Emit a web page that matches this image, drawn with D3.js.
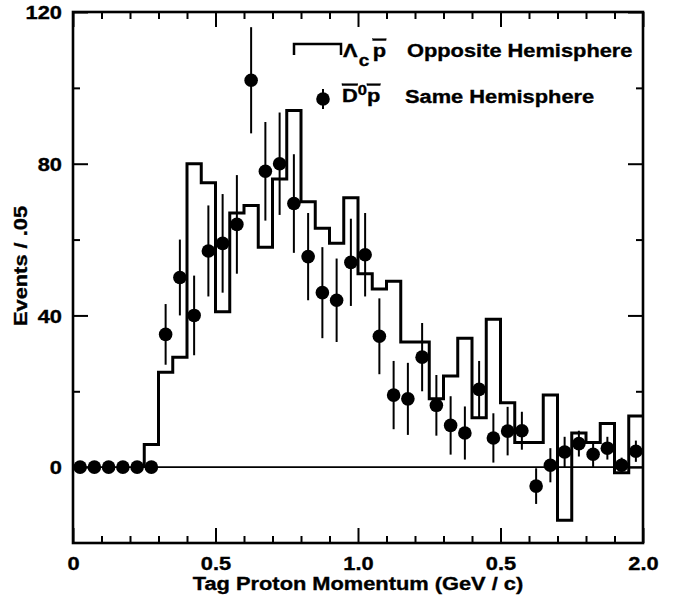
<!DOCTYPE html>
<html>
<head>
<meta charset="utf-8">
<script src="https://cdn.jsdelivr.net/npm/d3@7"></script>
<style>
  html, body { margin: 0; padding: 0; background: #fff; }
  svg text { font-family: "Liberation Sans", Arial, Helvetica, sans-serif; font-weight: bold; fill: #000; stroke: #000; stroke-width: 0.35px; }
</style>
</head>
<body>
<svg id="chart" width="681" height="600"></svg>
<script>
// Opposite-hemisphere Λc p̄ histogram: lower bin edges (GeV/c) and counts per 0.05 bin
const histEdges = [0.25, 0.30, 0.35, 0.40, 0.45, 0.50, 0.55, 0.60, 0.65, 0.70,
                   0.75, 0.80, 0.85, 0.90, 0.95, 1.00, 1.05, 1.10, 1.15, 1.20,
                   1.25, 1.30, 1.35, 1.40, 1.45, 1.50, 1.55, 1.60, 1.65, 1.70,
                   1.75, 1.80, 1.85, 1.90, 1.95];
const histCounts = [6, 25, 29, 80, 75, 41, 67, 69, 58, 76,
                    94, 70, 63, 59, 71, 51, 47, 49, 33, 33,
                    18, 24, 34, 13, 39, 17, 6.5, 6.5, 19, -14,
                    9, 6.5, 11.5, -1.5, 13.5];
const histEnd = 2.0;

// Same-hemisphere D̄0 p̄ points: bin centres, counts and errors
const pointX = [0.025, 0.075, 0.125, 0.175, 0.225, 0.275, 0.325, 0.375, 0.425, 0.475,
                0.525, 0.575, 0.625, 0.675, 0.725, 0.775, 0.825, 0.875, 0.925, 0.975,
                1.025, 1.075, 1.125, 1.175, 1.225, 1.275, 1.325, 1.375, 1.425, 1.475,
                1.525, 1.575, 1.625, 1.675, 1.725, 1.775, 1.825, 1.875, 1.925, 1.975];
const pointY = [0, 0, 0, 0, 0, 0, 35, 50, 40, 57,
                59, 64, 102, 78, 80, 69.5, 55.5, 46, 44, 54,
                56, 34.5, 19, 18, 29, 16.3, 11, 9, 20.5, 7.7,
                9.5, 9.6, -5, 0.5, 4, 6.2, 3.4, 5, 0.5, 4.2];
const pointErr = [0, 0, 0, 0, 0, 0, 8, 10, 10.5, 12,
                  13, 13, 14, 13, 13.5, 13, 11.5, 12, 11, 11.5,
                  11, 10, 9, 9.5, 9, 8, 7.7, 7, 7.5, 6.5,
                  6.4, 5, 4.7, 4.5, 4, 3.4, 3.5, 3, 2, 2.8];

// Axis ticks and labels
const xMajorTicks = [0, 0.5, 1.0, 1.5, 2.0];
const xTickLabels = ["0", "0.5", "1.0", "0.5", "2.0"];
const xMinorTicks = [0.1, 0.2, 0.3, 0.4, 0.6, 0.7, 0.8, 0.9, 1.1, 1.2, 1.3, 1.4, 1.6, 1.7, 1.8, 1.9];
const yMajorTicks = [0, 40, 80, 120];
const yMinorTicks = [20, 60, 100];
const xTitle = "Tag Proton Momentum (GeV / c)";
const yTitle = "Events / .05";

const FS = 18.5;     // font size
const SX = 1.18;     // horizontal stretch of the lettering

const svg = d3.select("#chart");
const plotL = 73, plotR = 643, plotT = 12, plotB = 543;

const x = d3.scaleLinear().domain([0, 2]).range([plotL, plotR]);
const y = d3.scaleLinear().domain([-20, 120]).range([plotB, plotT]);

// zero reference line
svg.append("line")
  .attr("x1", x(0)).attr("x2", x(2))
  .attr("y1", y(0)).attr("y2", y(0))
  .attr("stroke", "#000").attr("stroke-width", 1.6);

// histogram as a step outline
const stepPts = [[histEdges[0], 0]];
histEdges.forEach((e, i) => stepPts.push([e, histCounts[i]]));
stepPts.push([histEnd, histCounts[histCounts.length - 1]]);
svg.append("path")
  .attr("d", d3.line().x(d => x(d[0])).y(d => y(d[1])).curve(d3.curveStepAfter)(stepPts))
  .attr("fill", "none").attr("stroke", "#000").attr("stroke-width", 3)
  .attr("stroke-linejoin", "miter");

// error bars and points
const pts = pointX.map((px, i) => ({ x: px, y: pointY[i], e: pointErr[i] }));
svg.append("g").selectAll("line").data(pts.filter(d => d.e > 0)).join("line")
  .attr("x1", d => x(d.x)).attr("x2", d => x(d.x))
  .attr("y1", d => y(d.y - d.e)).attr("y2", d => y(d.y + d.e))
  .attr("stroke", "#000").attr("stroke-width", 2);
svg.append("g").selectAll("circle").data(pts).join("circle")
  .attr("cx", d => x(d.x)).attr("cy", d => y(d.y)).attr("r", 6.8)
  .attr("fill", "#000");

// axes with inward ticks on all four sides
function styleAxis(g) {
  g.select(".domain").remove();
  g.selectAll(".tick line").attr("stroke", "#000").attr("stroke-width", 2);
}
function stretchText(g, dx) {
  g.selectAll(".tick text")
    .attr("font-size", FS).attr("font-family", null)
    .attr("x", 0)
    .attr("transform", `translate(${dx},0) scale(${SX},1)`);
}
const bottomMajor = svg.append("g").attr("transform", `translate(0,${plotB})`)
  .call(d3.axisBottom(x).tickValues(xMajorTicks).tickSize(-15).tickPadding(14)
        .tickFormat((d, i) => xTickLabels[i]));
styleAxis(bottomMajor); stretchText(bottomMajor, 0);
styleAxis(svg.append("g").attr("transform", `translate(0,${plotB})`)
  .call(d3.axisBottom(x).tickValues(xMinorTicks).tickSize(-7).tickFormat("")));
styleAxis(svg.append("g").attr("transform", `translate(0,${plotT})`)
  .call(d3.axisTop(x).tickValues(xMajorTicks).tickSize(-15).tickFormat("")));
styleAxis(svg.append("g").attr("transform", `translate(0,${plotT})`)
  .call(d3.axisTop(x).tickValues(xMinorTicks).tickSize(-7).tickFormat("")));

const leftMajor = svg.append("g").attr("transform", `translate(${plotL},0)`)
  .call(d3.axisLeft(y).tickValues(yMajorTicks).tickSize(-15).tickPadding(0));
styleAxis(leftMajor); stretchText(leftMajor, -11);
leftMajor.selectAll(".tick text").attr("dy", "0.36em");
styleAxis(svg.append("g").attr("transform", `translate(${plotL},0)`)
  .call(d3.axisLeft(y).tickValues(yMinorTicks).tickSize(-7).tickFormat("")));
styleAxis(svg.append("g").attr("transform", `translate(${plotR},0)`)
  .call(d3.axisRight(y).tickValues(yMajorTicks).tickSize(-15).tickFormat("")));
styleAxis(svg.append("g").attr("transform", `translate(${plotR},0)`)
  .call(d3.axisRight(y).tickValues(yMinorTicks).tickSize(-7).tickFormat("")));

// frame
svg.append("rect")
  .attr("x", plotL).attr("y", plotT).attr("width", plotR - plotL).attr("height", plotB - plotT)
  .attr("fill", "none").attr("stroke", "#000").attr("stroke-width", 2.6);

// axis titles
svg.append("text")
  .attr("transform", `translate(${(plotL + plotR) / 2},590) scale(${SX},1)`)
  .attr("text-anchor", "middle").attr("font-size", FS).text(xTitle);
svg.append("text")
  .attr("transform", `translate(27,266) rotate(-90) scale(${SX},1)`)
  .attr("text-anchor", "middle").attr("font-size", FS).text(yTitle);

// legend
const leg = svg.append("g");
leg.append("path").attr("d", "M294,55V44H341V55")
  .attr("fill", "none").attr("stroke", "#000").attr("stroke-width", 2.5);
const t1 = leg.append("text")
  .attr("transform", `translate(343,57) scale(${SX},1)`).attr("font-size", FS);
t1.append("tspan").text("Λ");
t1.append("tspan").attr("dy", 9).attr("dx", 1).attr("font-size", 16).text("c");
t1.append("tspan").attr("dy", -9).attr("dx", 3).style("text-decoration", "overline").text("p");
leg.append("text")
  .attr("transform", `translate(407,57) scale(${SX},1)`).attr("font-size", FS)
  .text("Opposite Hemisphere");

leg.append("line").attr("x1", 323).attr("x2", 323).attr("y1", 89).attr("y2", 109)
  .attr("stroke", "#000").attr("stroke-width", 2);
leg.append("circle").attr("cx", 323).attr("cy", 99).attr("r", 6.8).attr("fill", "#000");
const t2 = leg.append("text")
  .attr("transform", `translate(342,102) scale(${SX},1)`).attr("font-size", FS);
t2.append("tspan").style("text-decoration", "overline").text("D");
t2.append("tspan").attr("dy", -7).attr("font-size", 14).text("0");
t2.append("tspan").attr("dy", 7).style("text-decoration", "overline").text("p");
leg.append("text")
  .attr("transform", `translate(405,103) scale(${SX},1)`).attr("font-size", FS)
  .text("Same Hemisphere");
</script>
</body>
</html>
